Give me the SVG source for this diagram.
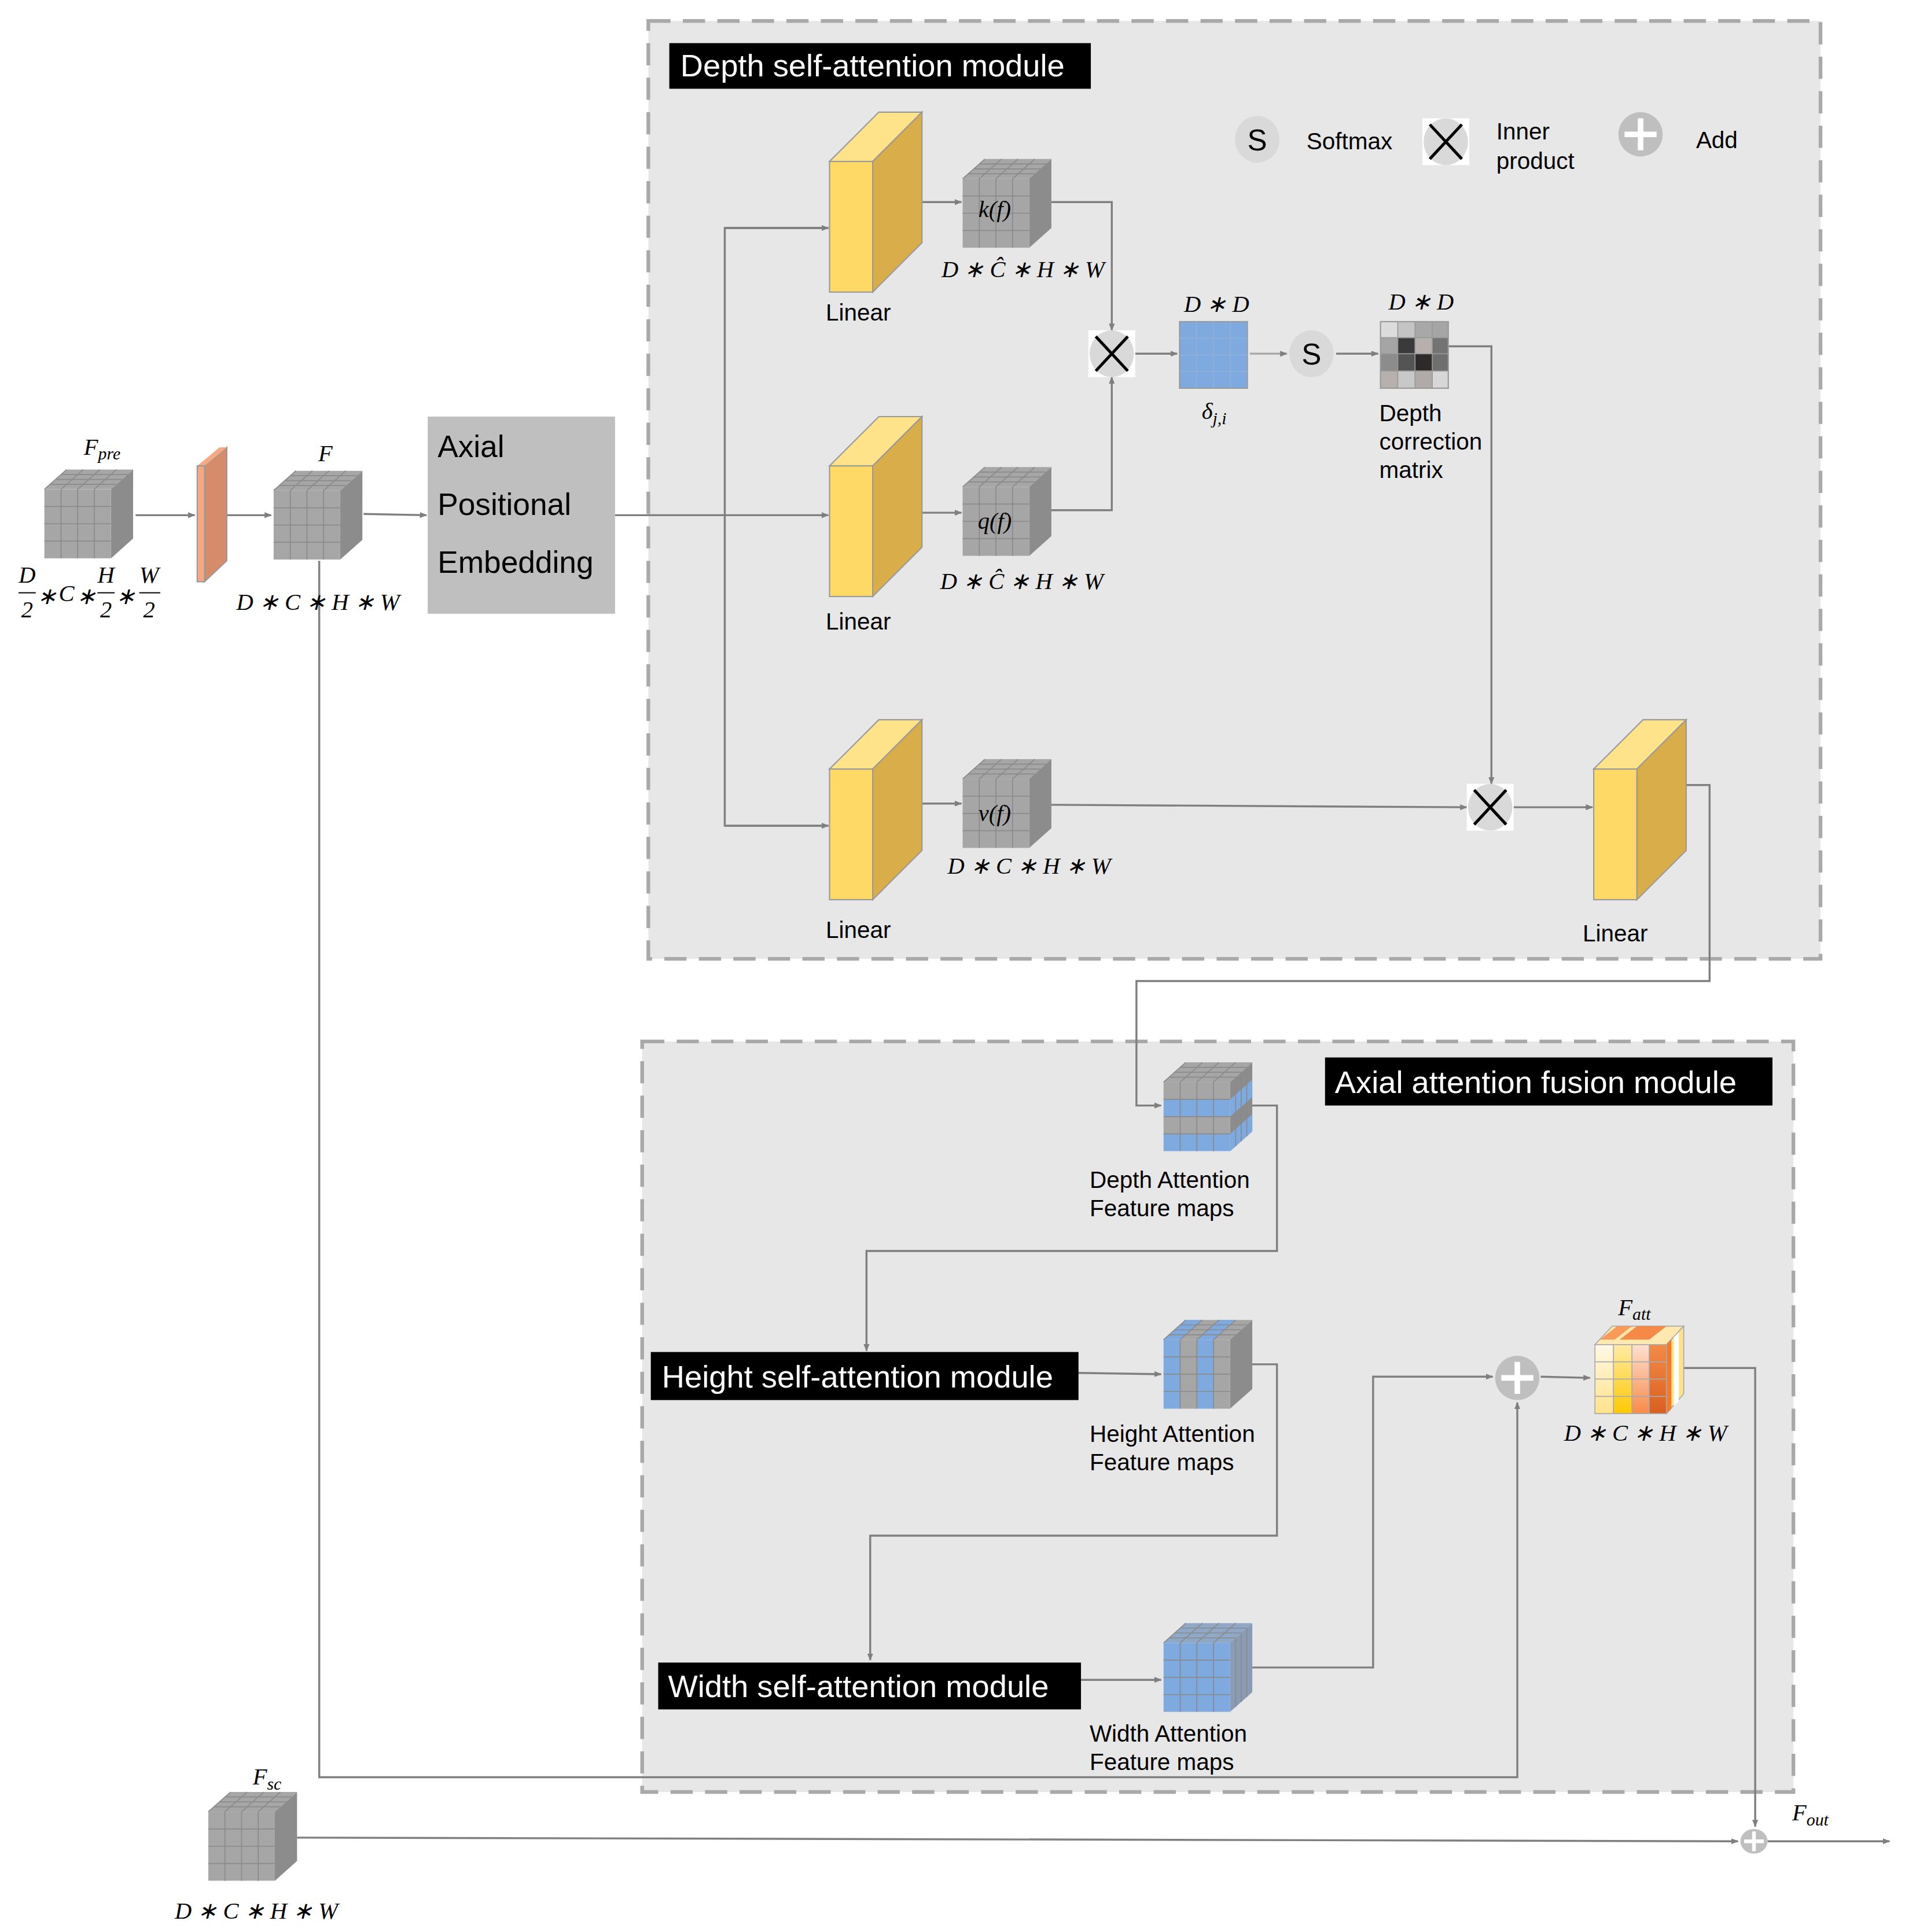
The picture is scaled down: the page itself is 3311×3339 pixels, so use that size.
<svg xmlns="http://www.w3.org/2000/svg" xmlns:xlink="http://www.w3.org/1999/xlink" width="3311" height="3339" viewBox="0 0 3311 3339">
<style>
.t{font-family:"Liberation Sans",Arial,sans-serif;fill:#000}
.m{font-family:"Liberation Serif","Times New Roman",serif;font-style:italic;fill:#000}
.w{font-family:"Liberation Sans",Arial,sans-serif;fill:#fff}
.c{fill:none;stroke:#7f7f7f;stroke-width:1.6}
.g{stroke:#8a8a8a;stroke-width:0.8}
.mod{fill:#e7e7e7;stroke:#a9a9a9;stroke-width:3;stroke-dasharray:18 10}
</style>
<defs>
<marker id="a" viewBox="0 0 10 10" refX="9" refY="5" markerWidth="6" markerHeight="6" orient="auto" markerUnits="userSpaceOnUse"><path d="M0,1 L10,5 L0,9 z" fill="#7f7f7f"/></marker>
<g id="grid">
<path d="M13.5,0V56M27,0V56M40.5,0V56M0,14H54M0,28H54M0,42H54" class="g" fill="none"/>
<path d="M4.5,-4H58.5M9,-8H63M13.5,-12H67.5M18,-16L0,0M31.5,-16L13.5,0M45,-16L27,0M58.5,-16L40.5,0" class="g" fill="none"/>
</g>
<g id="gc">
<polygon points="0,0 18,-16 72,-16 54,0" fill="#a6a6a6"/>
<polygon points="54,0 72,-16 72,40 54,56" fill="#8c8c8c"/>
<rect x="0" y="0" width="54" height="56" fill="#a6a6a6"/>
<use xlink:href="#grid"/>
</g>
<g id="lin">
<polygon points="0,40 40,0 75,0 35,40" fill="#ffe38a" stroke="#999" stroke-width="1"/>
<polygon points="35,40 75,0 75,106 35,146" fill="#d9ae4a" stroke="#999" stroke-width="1"/>
<rect x="0" y="40" width="35" height="106" fill="#ffd966" stroke="#999" stroke-width="1"/>
</g>
<g id="mul">
<rect x="-19" y="-19" width="38" height="38" fill="#fff"/>
<ellipse cx="0" cy="0" rx="18" ry="19" fill="#d9d9d9"/>
<path d="M-13,-14L13,14M13,-14L-13,14" stroke="#000" stroke-width="2.4"/>
</g>
<g id="add">
<circle r="18" fill="#bfbfbf"/>
<path d="M-13,0H13M0,-13V13" stroke="#fff" stroke-width="4.5"/>
</g>
<linearGradient id="g1" x1="0" y1="0" x2="0" y2="1"><stop offset="0" stop-color="#fff8e6"/><stop offset="1" stop-color="#ffe28a"/></linearGradient>
<linearGradient id="g2" x1="0" y1="0" x2="0" y2="1"><stop offset="0" stop-color="#ffeaa6"/><stop offset="1" stop-color="#ffc900"/></linearGradient>
<linearGradient id="g3" x1="0" y1="0" x2="0" y2="1"><stop offset="0" stop-color="#fde0d0"/><stop offset="1" stop-color="#f78a4a"/></linearGradient>
<linearGradient id="g4" x1="0" y1="0" x2="0" y2="1"><stop offset="0" stop-color="#f48a48"/><stop offset="1" stop-color="#d9601e"/></linearGradient>
</defs>
<rect width="3311" height="3339" fill="#fff"/>
<g transform="scale(2.13)">
<g id="modules">
<rect class="mod" x="526" y="17" width="951" height="761"/>
<rect class="mod" x="521" y="845" width="934" height="609"/>
</g>
<g id="connectors" class="c">
<path d="M110,418H158" marker-end="url(#a)"/>
<path d="M174,418H220" marker-end="url(#a)"/>
<path d="M295,417L346,418" marker-end="url(#a)"/>
<path d="M499,418H672" marker-end="url(#a)"/>
<path d="M672,185H588V670H672" />
<path d="M588,185H672" marker-end="url(#a)"/>
<path d="M588,670H672" marker-end="url(#a)"/>
<path d="M730,164H780" marker-end="url(#a)"/>
<path d="M730,416H780" marker-end="url(#a)"/>
<path d="M730,652H780" marker-end="url(#a)"/>
<path d="M853,164H902V268" marker-end="url(#a)"/>
<path d="M853,414H902V306" marker-end="url(#a)"/>
<path d="M921,287H955" marker-end="url(#a)"/>
<path d="M1014,287H1044" marker-end="url(#a)" stroke="#aaa"/>
<path d="M1084,287H1118" marker-end="url(#a)"/>
<path d="M1175,281H1210V636" marker-end="url(#a)"/>
<path d="M853,653L1190,655" marker-end="url(#a)"/>
<path d="M1228,655H1292" marker-end="url(#a)"/>
<path d="M1367,637H1387V796H922V897H942" marker-end="url(#a)"/>
<path d="M1016,897H1036V1015H703V1096" marker-end="url(#a)"/>
<path d="M875,1114L942,1115" marker-end="url(#a)"/>
<path d="M1016,1107H1036V1246H706V1347" marker-end="url(#a)"/>
<path d="M877,1363H942" marker-end="url(#a)"/>
<path d="M1016,1353H1114V1117H1211" marker-end="url(#a)"/>
<path d="M259,455V1442H1231V1138" marker-end="url(#a)"/>
<path d="M1250,1117L1290,1118" marker-end="url(#a)"/>
<path d="M1366,1110H1424V1482" marker-end="url(#a)"/>
<path d="M241,1491L1410,1494" marker-end="url(#a)"/>
<path d="M1434,1494H1533" marker-end="url(#a)"/>
</g>
<g id="fpre">
<use xlink:href="#gc" x="36" y="397"/>
<text class="m" x="68" y="369" font-size="19">F<tspan font-size="14" dy="4">pre</tspan></text>
<g class="m" font-size="19" text-anchor="middle">
<text x="22" y="473">D</text><text x="22" y="501">2</text>
<text x="86" y="473">H</text><text x="86" y="501">2</text>
<text x="121" y="473">W</text><text x="121" y="501">2</text>
<text x="38" y="490">∗</text><text x="54" y="488">C</text><text x="70" y="490">∗</text><text x="102" y="490">∗</text>
</g>
<path d="M15,481H29M79,481H93M113,481H130" stroke="#000" stroke-width="1"/>
</g>
<g id="conv">
<polygon points="166,378 184,363 184,455 166,472" fill="#d68b6a" stroke="#999" stroke-width="1"/>
<polygon points="160,378 178,363 184,363 166,378" fill="#f5a884"/>
<rect x="160" y="378" width="6" height="94" fill="#f5a884" stroke="#999" stroke-width="1"/>
</g>
<g id="f">
<use xlink:href="#gc" x="222" y="398"/>
<text class="m" x="264" y="374" font-size="19" text-anchor="middle">F</text>
<text class="m" x="258" y="495" font-size="19" text-anchor="middle">D ∗ C ∗ H ∗ W</text>
</g>
<g id="ape">
<rect x="347" y="338" width="152" height="160" fill="#bfbfbf"/>
<text class="t" x="355" y="371" font-size="25">Axial</text>
<text class="t" x="355" y="418" font-size="25">Positional</text>
<text class="t" x="355" y="465" font-size="25">Embedding</text>
</g>
<g id="depth-title">
<rect x="543" y="35" width="342" height="37" fill="#000"/>
<text class="w" x="552" y="62" font-size="25.5">Depth self-attention module</text>
</g>
<g id="legend">
<ellipse cx="1020" cy="113" rx="18" ry="19" fill="#d9d9d9"/>
<text class="t" x="1020" y="122" font-size="24" text-anchor="middle">S</text>
<text class="t" x="1060" y="121" font-size="19">Softmax</text>
<use xlink:href="#mul" x="1173" y="115"/>
<text class="t" x="1214" y="113" font-size="19">Inner</text>
<text class="t" x="1214" y="137" font-size="19">product</text>
<use xlink:href="#add" x="1331" y="109"/>
<text class="t" x="1376" y="120" font-size="19">Add</text>
</g>
<g id="linear1"><use xlink:href="#lin" x="673" y="91"/><text class="t" x="670" y="260" font-size="19">Linear</text></g>
<g id="linear2"><use xlink:href="#lin" x="673" y="338"/><text class="t" x="670" y="511" font-size="19">Linear</text></g>
<g id="linear3"><use xlink:href="#lin" x="673" y="584"/><text class="t" x="670" y="761" font-size="19">Linear</text></g>
<g id="linear4"><use xlink:href="#lin" x="1293" y="584"/><text class="t" x="1284" y="764" font-size="19">Linear</text></g>
<g id="kf">
<use xlink:href="#gc" x="781" y="145"/>
<text class="m" x="807" y="176" font-size="19" text-anchor="middle">k(f)</text>
<text class="m" x="830" y="225" font-size="19" text-anchor="middle">D ∗ Ĉ ∗ H ∗ W</text>
</g>
<g id="qf">
<use xlink:href="#gc" x="781" y="395"/>
<text class="m" x="807" y="429" font-size="19" text-anchor="middle">q(f)</text>
<text class="m" x="829" y="478" font-size="19" text-anchor="middle">D ∗ Ĉ ∗ H ∗ W</text>
</g>
<g id="vf">
<use xlink:href="#gc" x="781" y="632"/>
<text class="m" x="807" y="666" font-size="19" text-anchor="middle">v(f)</text>
<text class="m" x="835" y="709" font-size="19" text-anchor="middle">D ∗ C ∗ H ∗ W</text>
</g>
<g id="mul1"><use xlink:href="#mul" x="902" y="287"/></g>
<g id="delta">
<rect x="957" y="261" width="55" height="54" fill="#7faadf" stroke="#999" stroke-width="1"/>
<path d="M970.75,261V315M984.5,261V315M998.25,261V315M957,274.5H1012M957,288H1012M957,301.5H1012" stroke="#8fb0d8" stroke-width="0.8"/>
<text class="m" x="987" y="253" font-size="19" text-anchor="middle">D ∗ D</text>
<text class="m" x="985" y="340" font-size="19" text-anchor="middle">δ<tspan font-size="14" dy="4">j,i</tspan></text>
</g>
<g id="softmax">
<ellipse cx="1064" cy="287" rx="18" ry="19" fill="#d9d9d9"/>
<text class="t" x="1064" y="296" font-size="24" text-anchor="middle">S</text>
</g>
<g id="dcm">
<rect x="1120" y="261" width="14" height="13" fill="#dcdcdc"/><rect x="1134" y="261" width="14" height="13" fill="#c4c4c4"/><rect x="1148" y="261" width="14" height="13" fill="#a8a8a8"/><rect x="1162" y="261" width="13" height="13" fill="#a5a5a5"/>
<rect x="1120" y="274" width="14" height="13" fill="#a5a5a5"/><rect x="1134" y="274" width="14" height="13" fill="#3a3a3a"/><rect x="1148" y="274" width="14" height="13" fill="#b7b0ad"/><rect x="1162" y="274" width="13" height="13" fill="#737373"/>
<rect x="1120" y="287" width="14" height="14" fill="#8c8c8c"/><rect x="1134" y="287" width="14" height="14" fill="#545454"/><rect x="1148" y="287" width="14" height="14" fill="#2e2a2a"/><rect x="1162" y="287" width="13" height="14" fill="#6f6f6f"/>
<rect x="1120" y="301" width="14" height="14" fill="#b6b1ae"/><rect x="1134" y="301" width="14" height="14" fill="#c8c8c8"/><rect x="1148" y="301" width="14" height="14" fill="#b0aaa8"/><rect x="1162" y="301" width="13" height="14" fill="#d8d6d6"/>
<rect x="1120" y="261" width="55" height="54" fill="none" stroke="#999" stroke-width="1"/>
<path d="M1134,261V315M1148,261V315M1162,261V315M1120,274H1175M1120,287H1175M1120,301H1175" stroke="#999" stroke-width="0.8"/>
<text class="m" x="1153" y="251" font-size="19" text-anchor="middle">D ∗ D</text>
<text class="t" x="1119" y="342" font-size="19">Depth</text>
<text class="t" x="1119" y="365" font-size="19">correction</text>
<text class="t" x="1119" y="388" font-size="19">matrix</text>
</g>
<g id="mul2"><use xlink:href="#mul" x="1209" y="655"/></g>
<g id="fusion-title">
<rect x="1075" y="858" width="363" height="39" fill="#000"/>
<text class="w" x="1083" y="887" font-size="25.5">Axial attention fusion module</text>
</g>
<g id="depth-maps" transform="translate(944,878)">
<polygon points="0,0 18,-16 72,-16 54,0" fill="#a6a6a6"/>
<polygon points="54,0 72,-16 72,40 54,56" fill="#8c8c8c"/>
<polygon points="54,14 72,-2 72,12 54,28" fill="#7faadf"/>
<polygon points="54,42 72,26 72,40 54,56" fill="#7faadf"/>
<rect width="54" height="14" fill="#a6a6a6"/><rect y="14" width="54" height="14" fill="#7faadf"/>
<rect y="28" width="54" height="14" fill="#a6a6a6"/><rect y="42" width="54" height="14" fill="#7faadf"/>
<use xlink:href="#grid"/>
<path d="M58.5,-4V52M63,-8V48M67.5,-12V44" class="g"/>
</g>
<g id="depth-maps-label">
<text class="t" x="884" y="964" font-size="19">Depth Attention</text>
<text class="t" x="884" y="987" font-size="19">Feature maps</text>
</g>
<g id="height-module">
<rect x="528" y="1097" width="347" height="39" fill="#000"/>
<text class="w" x="537" y="1126" font-size="25.5">Height self-attention module</text>
</g>
<g id="height-maps" transform="translate(944,1087)">
<polygon points="0,0 18,-16 72,-16 54,0" fill="#a6a6a6"/>
<polygon points="0,0 18,-16 31.5,-16 13.5,0" fill="#7faadf"/>
<polygon points="27,0 45,-16 58.5,-16 40.5,0" fill="#7faadf"/>
<polygon points="54,0 72,-16 72,40 54,56" fill="#8c8c8c"/>
<rect width="13.5" height="56" fill="#7faadf"/><rect x="13.5" width="13.5" height="56" fill="#a6a6a6"/>
<rect x="27" width="13.5" height="56" fill="#7faadf"/><rect x="40.5" width="13.5" height="56" fill="#a6a6a6"/>
<use xlink:href="#grid"/>
</g>
<g id="height-maps-label">
<text class="t" x="884" y="1170" font-size="19">Height Attention</text>
<text class="t" x="884" y="1193" font-size="19">Feature maps</text>
</g>
<g id="width-module">
<rect x="534" y="1349" width="343" height="38" fill="#000"/>
<text class="w" x="542" y="1377" font-size="25.5">Width self-attention module</text>
</g>
<g id="width-maps" transform="translate(944,1333)">
<polygon points="0,0 18,-16 72,-16 54,0" fill="#8fa8c8"/>
<polygon points="54,0 72,-16 72,40 54,56" fill="#8a9cb5"/>
<rect width="54" height="56" fill="#7faadf"/>
<use xlink:href="#grid"/>
<path d="M58.5,-4V52M63,-8V48M67.5,-12V44" class="g"/>
</g>
<g id="width-maps-label">
<text class="t" x="884" y="1413" font-size="19">Width Attention</text>
<text class="t" x="884" y="1436" font-size="19">Feature maps</text>
</g>
<g id="add1"><use xlink:href="#add" x="1231" y="1118"/></g>
<g id="fatt" transform="translate(1294,1091)">
<polygon points="0,0 14,-15 72,-15 58,0" fill="#ffe9b0" stroke="#aaa" stroke-width="0.8"/>
<polygon points="4,-4 18,-15 30,-15 16,-4" fill="#f99a5a"/>
<polygon points="20,-4 34,-15 58,-15 44,-4" fill="#f58a48"/>
<polygon points="58,0 72,-15 72,40 58,56" fill="#ffe28a" stroke="#aaa" stroke-width="0.8"/>
<polygon points="58,0 62,-4 62,52 58,56" fill="#f47a2a"/>
<polygon points="64,-6 68,-10 68,46 64,50" fill="#fff"/>
<rect width="15" height="56" fill="url(#g1)"/>
<rect x="15" width="15" height="56" fill="url(#g2)"/>
<rect x="30" width="14" height="56" fill="url(#g3)"/>
<rect x="44" width="14" height="56" fill="url(#g4)"/>
<path d="M15,0V56M30,0V56M44,0V56M0,14H58M0,28H58M0,42H58M0,0H58V56H0Z" stroke="#aaa" stroke-width="0.8" fill="none"/>
<text class="m" x="32" y="-24" font-size="19" text-anchor="middle">F<tspan font-size="14" dy="4">att</tspan></text>
<text class="m" x="41" y="78" font-size="19" text-anchor="middle">D ∗ C ∗ H ∗ W</text>
</g>
<g id="fsc">
<use xlink:href="#gc" x="169" y="1470"/>
<text class="m" x="205" y="1448" font-size="19">F<tspan font-size="14" dy="4">sc</tspan></text>
<text class="m" x="208" y="1557" font-size="19" text-anchor="middle">D ∗ C ∗ H ∗ W</text>
</g>
<g id="add2">
<ellipse cx="1423" cy="1494" rx="11" ry="10" fill="#bfbfbf"/>
<path d="M1415,1494H1431M1423,1486V1502" stroke="#fff" stroke-width="3"/>
</g>
<g id="fout"><text class="m" x="1454" y="1477" font-size="19">F<tspan font-size="14" dy="4">out</tspan></text></g>
</g>
</svg>
